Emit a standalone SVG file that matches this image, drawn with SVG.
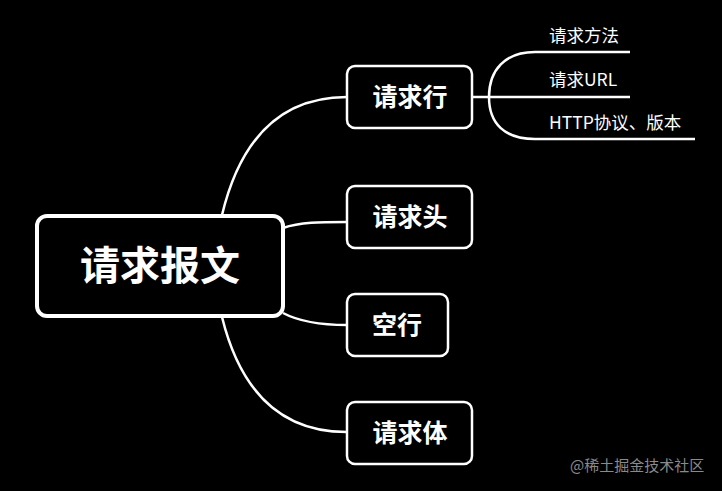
<svg xmlns="http://www.w3.org/2000/svg" width="722" height="491" viewBox="0 0 722 491">
<style>
.box{fill:#000;stroke:#fff;stroke-width:2.5}
.root{fill:#000;stroke:#fff;stroke-width:4}
.lt{font-family:"Noto Sans CJK SC","Noto Sans",sans-serif;font-weight:bold;fill:#fff;text-anchor:middle}
.st{font-family:"Noto Sans CJK SC","Noto Sans",sans-serif;fill:#fff;font-size:17.5px}
.ln{fill:none;stroke:#fff;stroke-width:2.5}
</style>
<rect width="722" height="491" fill="#000"/>
<g id="connectors">
<path class="ln" d="M222,215 C240,140 280,97 347,97"/>
<path class="ln" d="M283,228 C300,222 320,222 347,222"/>
<path class="ln" d="M283,313 C300,322 320,325 347,325"/>
<path class="ln" d="M222,317 C240,390 280,432 347,432"/>
<path class="ln" d="M472,97 L630,97"/>
<path class="ln" d="M489,97 C489,70 505,52 535,52 L630,52"/>
<path class="ln" d="M489,97 C489,124 505,139 535,139 L695,139"/>
</g>
<g id="root">
<rect class="root" x="37" y="216" width="246" height="100" rx="10"/>
<text class="lt" x="160" y="280" font-size="40">请求报文</text>
</g>
<g id="n1">
<rect class="box" x="347" y="66" width="125" height="62" rx="8"/>
<text class="lt" x="410" y="106" font-size="25">请求行</text>
</g>
<g id="n2">
<rect class="box" x="347" y="186" width="125" height="62" rx="8"/>
<text class="lt" x="410" y="226" font-size="25">请求头</text>
</g>
<g id="n3">
<rect class="box" x="347" y="294" width="101" height="62" rx="8"/>
<text class="lt" x="397" y="334" font-size="25">空行</text>
</g>
<g id="n4">
<rect class="box" x="347" y="402" width="125" height="62" rx="8"/>
<text class="lt" x="410" y="442" font-size="25">请求体</text>
</g>
<g id="s1"><text class="st" x="549" y="42">请求方法</text></g>
<g id="s2"><text class="st" x="549" y="86">请求URL</text></g>
<g id="s3"><text class="st" x="549" y="129">HTTP协议、版本</text></g>
<text x="570" y="471" font-family="Noto Sans CJK SC,sans-serif" font-size="15" fill="#8a8a8a">@稀土掘金技术社区</text>
</svg>
